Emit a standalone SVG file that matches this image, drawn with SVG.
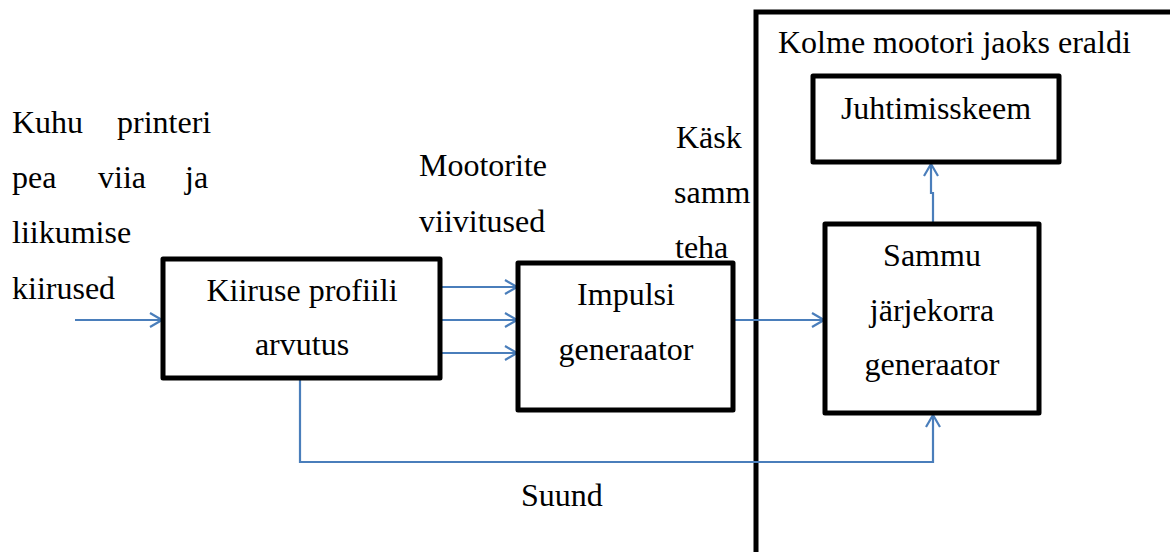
<svg xmlns="http://www.w3.org/2000/svg" width="1170" height="552" viewBox="0 0 1170 552">
  <style>
    .box { fill: #ffffff; stroke: #000000; stroke-width: 5; stroke-linejoin: round; }
    .frame { fill: none; stroke: #000000; stroke-width: 5; }
    .wire { fill: none; stroke: #4a7ebb; stroke-width: 2.2; }
    text { font-family: "Liberation Serif", "Times New Roman", serif; font-size: 32px; fill: #000000; }
    .c { text-anchor: middle; }
  </style>
  <defs>
    <marker id="open" viewBox="0 0 14 16" refX="13" refY="8" markerWidth="14" markerHeight="16" markerUnits="userSpaceOnUse" orient="auto">
      <path d="M1,1 L13,8 L1,15" fill="none" stroke="#4a7ebb" stroke-width="2.2"/>
    </marker>
  </defs>

  <rect width="1170" height="552" fill="#ffffff"/>

  <!-- outer frame: per-motor section -->
  <g id="motor-section">
    <rect class="frame" x="756" y="12" width="520" height="600"/>
    <text x="778" y="53">Kolme mootori jaoks eraldi</text>
  </g>

  <!-- free labels -->
  <g id="input-label">
    <text x="12" y="133">Kuhu</text>
    <text x="117" y="133">printeri</text>
    <text x="12" y="188">pea</text>
    <text x="98" y="188">viia</text>
    <text x="185" y="188">ja</text>
    <text x="12" y="243">liikumise</text>
    <text x="12" y="299">kiirused</text>
  </g>
  <g id="delay-label">
    <text x="419" y="176">Mootorite</text>
    <text x="419" y="232">viivitused</text>
  </g>
  <g id="step-label">
    <text x="676" y="148">Käsk</text>
    <text x="674" y="203">samm</text>
    <text x="675" y="258">teha</text>
  </g>
  <g id="direction-label">
    <text x="521" y="506">Suund</text>
  </g>

  <!-- connectors -->
  <g id="connectors">
    <line class="wire" x1="75" y1="320" x2="162" y2="320" marker-end="url(#open)"/>
    <line class="wire" x1="441" y1="287" x2="517" y2="287" marker-end="url(#open)"/>
    <line class="wire" x1="441" y1="320" x2="517" y2="320" marker-end="url(#open)"/>
    <line class="wire" x1="441" y1="353" x2="517" y2="353" marker-end="url(#open)"/>
    <line class="wire" x1="733" y1="320" x2="824" y2="320" marker-end="url(#open)"/>
    <polyline class="wire" points="933,223 933,193 931,193 931,164" marker-end="url(#open)"/>
    <polyline class="wire" points="300,379 300,462 933,462 933,415" marker-end="url(#open)"/>
  </g>

  <!-- blocks -->
  <g id="speed-profile">
    <rect class="box" x="163" y="259" width="277" height="119"/>
    <text class="c" x="302" y="301">Kiiruse profiili</text>
    <text class="c" x="302" y="355">arvutus</text>
  </g>
  <g id="pulse-generator">
    <rect class="box" x="518" y="263" width="215" height="147"/>
    <text class="c" x="626" y="305">Impulsi</text>
    <text class="c" x="626" y="360">generaator</text>
  </g>
  <g id="control-circuit">
    <rect class="box" x="813" y="76" width="246" height="86"/>
    <text class="c" x="936" y="119">Juhtimisskeem</text>
  </g>
  <g id="step-sequence-generator">
    <rect class="box" x="825" y="224" width="214" height="189"/>
    <text class="c" x="932" y="266">Sammu</text>
    <text class="c" x="932" y="321">järjekorra</text>
    <text class="c" x="932" y="375">generaator</text>
  </g>
</svg>
